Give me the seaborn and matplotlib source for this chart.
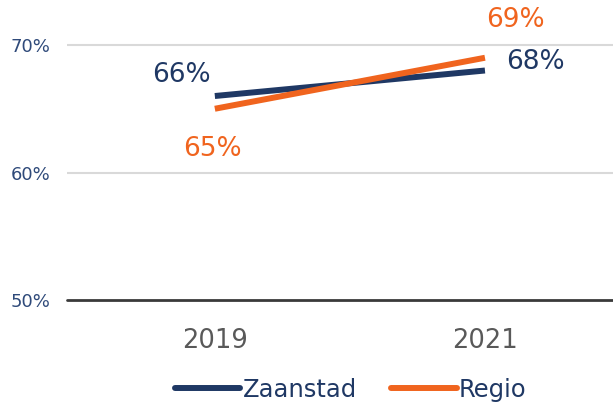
import matplotlib
matplotlib.use("Agg")
import matplotlib.pyplot as plt
import seaborn as sns
import pandas as pd
from matplotlib.lines import Line2D

# Data
years = ["2019", "2021"]
zaanstad = [66, 68]
regio = [65, 69]
series_names = ["Zaanstad", "Regio"]

navy = "#1F3864"
orange = "#F0641E"

df = pd.DataFrame({
    "jaar": years * 2,
    "waarde": zaanstad + regio,
    "reeks": [series_names[0]] * 2 + [series_names[1]] * 2,
})

sns.set_style("white")
plt.rcParams["font.family"] = ["DejaVu Sans"]

fig = plt.figure(figsize=(6.13, 4.08), dpi=100)
ax = fig.add_axes([0.109, 0.2647, 0.891, 0.7353])

# Gridlines
for v in [60, 70]:
    ax.axhline(v, color="#D9D9D9", linewidth=1.5, zorder=0)
ax.axhline(50, color="#3A3A3A", linewidth=2.0, zorder=0, clip_on=False)

sns.lineplot(
    data=df, x="jaar", y="waarde", hue="reeks",
    palette={series_names[0]: navy, series_names[1]: orange},
    linewidth=4.3, ax=ax, legend=False, solid_capstyle="butt",
)

# Data labels
offsets = {
    (0, 0): (-24, 15), (0, 1): (36, 6),
    (1, 0): (-2, -29), (1, 1): (22, 27),
}
for s, (vals, col) in enumerate([(zaanstad, navy), (regio, orange)]):
    for i, v in enumerate(vals):
        ax.annotate(f"{v}%", (i, v), xytext=offsets[(s, i)],
                    textcoords="offset points", ha="center", va="center",
                    fontsize=19, color=col)

ax.set_xlim(-0.548, 1.474)
ax.set_ylim(50, 73.53)
ax.set_yticks([50, 60, 70])
ax.set_yticklabels(["50%", "60%", "70%"], color="#2F4A7A", fontsize=13)
ax.tick_params(axis="y", length=0, pad=12)
ax.tick_params(axis="x", length=0, pad=20, labelsize=18.5, labelcolor="#595959")
ax.set_xlabel("")
ax.set_ylabel("")
for sp in ax.spines.values():
    sp.set_visible(False)

# Legend
handles = [Line2D([], [], color=navy, linewidth=4.3, solid_capstyle="round"),
           Line2D([], [], color=orange, linewidth=4.3, solid_capstyle="round")]
leg = fig.legend(handles, series_names, loc="center", bbox_to_anchor=(0.572, 0.045),
                 ncol=2, frameon=False, handlelength=2.7, handletextpad=0.1,
                 columnspacing=1.4, fontsize=17.5)
for t in leg.get_texts():
    t.set_color("#1F3864")

fig.savefig("out.png", dpi=100)
